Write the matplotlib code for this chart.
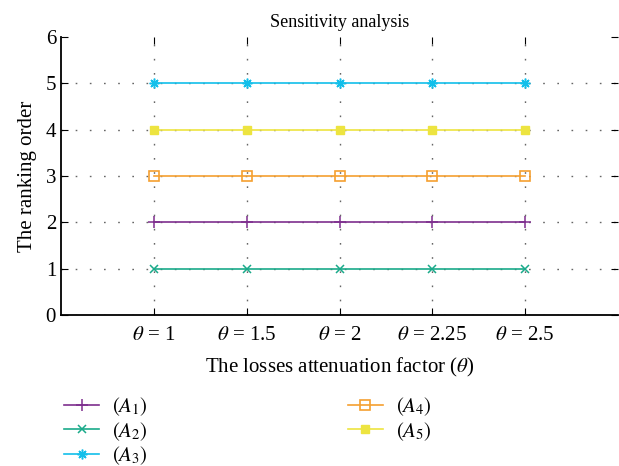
import matplotlib
matplotlib.use('Agg')
import matplotlib.pyplot as plt

plt.rcParams['font.family'] = ['Liberation Serif', 'DejaVu Serif']
plt.rcParams['mathtext.fontset'] = 'stix'

# data
theta_labels = [r'$\theta$ = 1', r'$\theta$ = 1.5', r'$\theta$ = 2', r'$\theta$ = 2.25', r'$\theta$ = 2.5']
x_pos = [1, 2, 3, 4, 5]
rank_A1 = [2, 2, 2, 2, 2]
rank_A2 = [1, 1, 1, 1, 1]
rank_A3 = [5, 5, 5, 5, 5]
rank_A4 = [3, 3, 3, 3, 3]
rank_A5 = [4, 4, 4, 4, 4]
names = [r'$(A_1)$', r'$(A_2)$', r'$(A_3)$', r'$(A_4)$', r'$(A_5)$']

fig = plt.figure(figsize=(6.19, 4.66), dpi=100)
ax = fig.add_axes([0.0985, 0.324, 0.9, 0.597])
ax.set_axisbelow(True)

ax.plot(x_pos, rank_A1, color='#7E2F8E', marker='+', ms=8, mew=1.1, lw=1.2)
ax.plot(x_pos, rank_A2, color='#1AAA8A', marker='x', ms=5.5, mew=1.1, lw=1.2)
ax.plot(x_pos, rank_A3, color='#12BFEA', marker=(8, 2, 0), ms=7, mew=1.1, lw=1.2)
ax.plot(x_pos, rank_A4, color='#F5A030', marker='s', ms=7, mfc='none', mew=1.2, lw=1.2)
ax.plot(x_pos, rank_A5, color='#EDE440', marker='s', ms=6, lw=1.2)

ax.set_xlim(0, 6)
ax.set_ylim(0, 6)
ax.set_xticks(x_pos)
ax.set_xticklabels(theta_labels, fontsize=15)
ax.set_yticks(range(7))
ax.tick_params(axis='y', labelsize=15, direction='in', right=True, length=5)
ax.tick_params(axis='x', direction='in', length=5, pad=8, top=True)
ax.grid(True, linestyle=(0, (1.2, 9)), color='#666666', lw=1.0)
# no dotted line along the top edge
ax.get_ygridlines()[-1].set_visible(False)
ax.spines['top'].set_visible(False)
ax.spines['right'].set_visible(False)
ax.spines['left'].set_linewidth(1.3)
ax.spines['bottom'].set_linewidth(1.3)

ax.set_title('Sensitivity analysis', fontsize=13, pad=7)
ax.set_ylabel('The ranking order', fontsize=15, labelpad=6)
ax.set_xlabel(r'The losses attenuation factor ($\theta$)', fontsize=15, labelpad=8)

handles = ax.get_lines()
leg = fig.legend(handles, names, loc='upper left', bbox_to_anchor=(0.09, 0.17), ncol=2,
                 frameon=False, fontsize=15, columnspacing=9.6, handlelength=1.7,
                 handletextpad=0.6, labelspacing=0.1, borderaxespad=0)

fig.savefig('out.png', dpi=100)
